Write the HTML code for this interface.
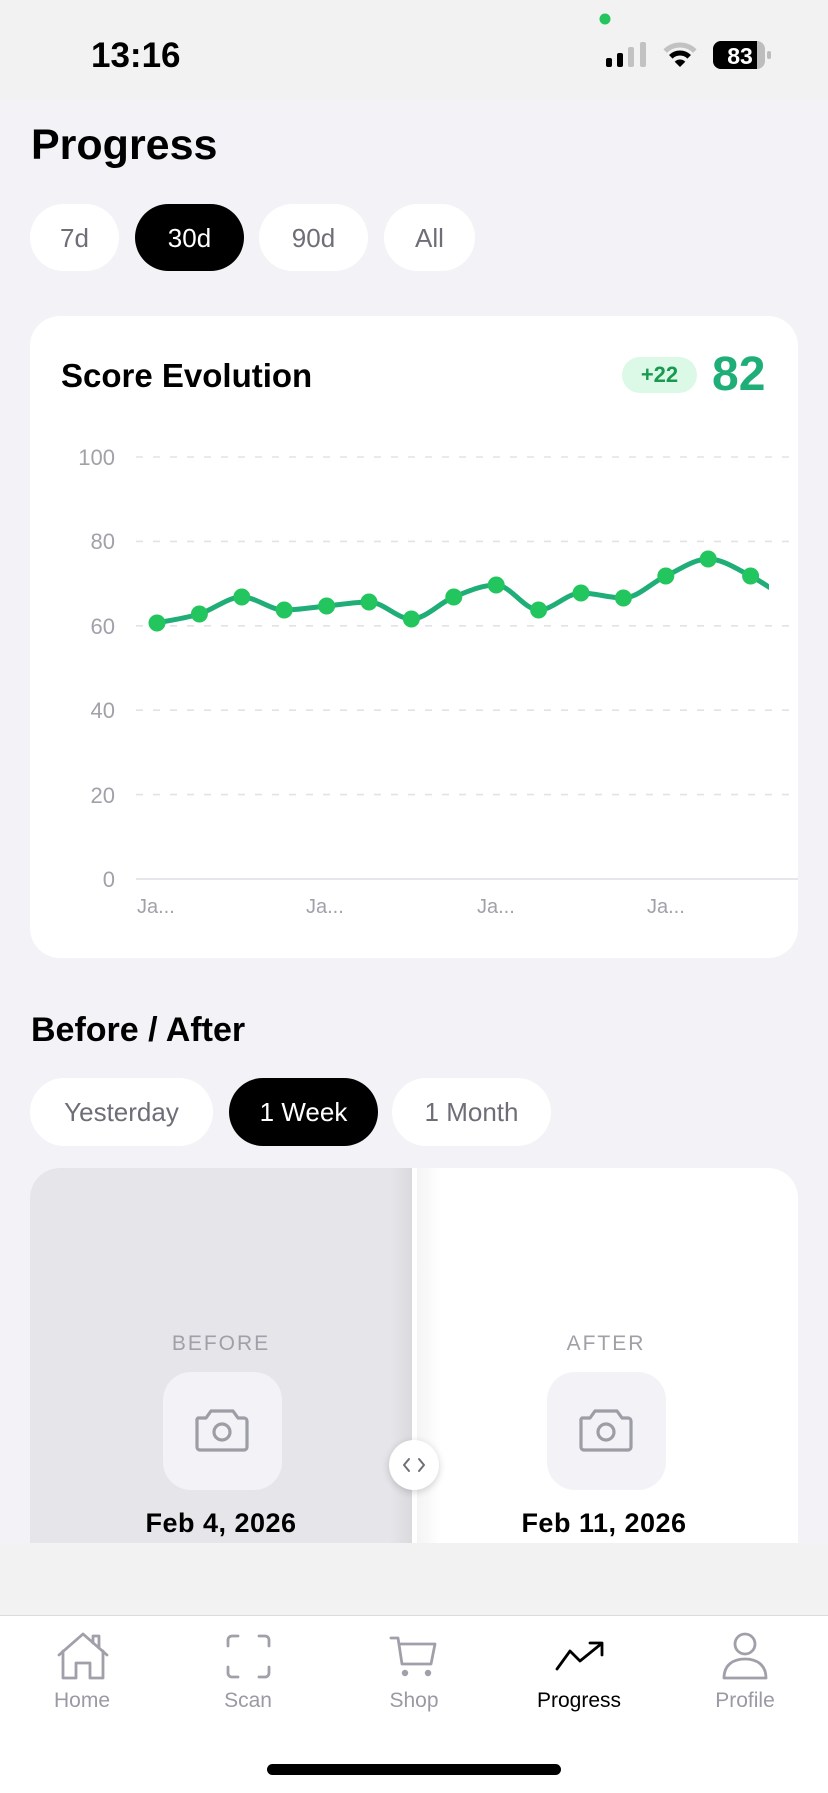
<!DOCTYPE html>
<html>
<head>
<meta charset="utf-8">
<style>
  html, body { margin:0; padding:0; }
  body { width:828px; height:1792px; position:relative; overflow:hidden; background:#f2f2f7; font-family:"Liberation Sans", sans-serif; }
  .abs { position:absolute; }
  .t { position:absolute; white-space:nowrap; line-height:1; }
  .pill { position:absolute; background:#fff; border-radius:34px; display:flex; align-items:center; justify-content:center; color:#6e6e78; font-size:26px; line-height:1; }
  .pill.on { background:#000; color:#fff; }
  .c { text-align:center; }
</style>
</head>
<body>
<!-- status bar -->
<div class="abs" style="left:0;top:0;width:828px;height:100px;background:#f2f2f2;"></div>
<div class="t" style="left:91px;top:38px;font-size:35px;font-weight:bold;color:#000;">13:16</div>
<svg class="abs" style="left:0;top:0;" width="828" height="100" viewBox="0 0 828 100">
  <circle cx="605" cy="19" r="5.5" fill="#22c55e"/>
  <rect x="606" y="58" width="6" height="9" rx="2" fill="#000"/>
  <rect x="617" y="53" width="6" height="14" rx="2" fill="#000"/>
  <rect x="628" y="47" width="6" height="20" rx="2" fill="#c2c2c2"/>
  <rect x="640" y="42" width="6" height="25" rx="2" fill="#c2c2c2"/>
  <path d="M665.15 51.15 A21 21 0 0 1 694.85 51.15" stroke="#c2c2c2" stroke-width="5" fill="none"/>
  <path d="M670.8 56.8 A13 13 0 0 1 689.2 56.8" stroke="#000" stroke-width="5" fill="none"/>
  <path d="M680 67 L674.7 61.7 A7.5 7.5 0 0 1 685.3 61.7 Z" fill="#000"/>
  <rect x="713" y="41" width="52" height="28" rx="8" fill="#bdbdbd"/>
  <path d="M721 41 H757 V69 H721 A8 8 0 0 1 713 61 V49 A8 8 0 0 1 721 41 Z" fill="#000"/>
  <rect x="767" y="51" width="4" height="8" rx="2" fill="#bdbdbd"/>
  <text x="740" y="64" font-family="Liberation Sans, sans-serif" font-size="23" font-weight="bold" fill="#fff" text-anchor="middle">83</text>
</svg>

<!-- title -->
<div class="t" style="left:31px;top:124px;font-size:43px;font-weight:bold;color:#000;">Progress</div>

<!-- range pills -->
<div class="pill" style="left:30px;top:204px;width:89px;height:67px;">7d</div>
<div class="pill on" style="left:135px;top:204px;width:109px;height:67px;">30d</div>
<div class="pill" style="left:259px;top:204px;width:109px;height:67px;">90d</div>
<div class="pill" style="left:384px;top:204px;width:91px;height:67px;">All</div>

<!-- score card -->
<div class="abs" style="left:30px;top:316px;width:768px;height:642px;background:#fff;border-radius:30px;"></div>
<div class="t" style="left:61px;top:359px;font-size:33px;font-weight:bold;color:#000;">Score Evolution</div>
<div class="abs" style="left:622px;top:357px;width:75px;height:36px;border-radius:18px;background:#dcf9e8;color:#1a9a50;font-size:22px;font-weight:bold;display:flex;align-items:center;justify-content:center;line-height:1;">+22</div>
<div class="t" style="left:712px;top:351px;font-size:48px;font-weight:bold;color:#1fae78;">82</div>

<svg class="abs" style="left:0;top:0;" width="828" height="1000" viewBox="0 0 828 1000">
  <defs>
    <clipPath id="plot"><rect x="130" y="440" width="639" height="450"/></clipPath>
  </defs>
  <g stroke="#e2e2e8" stroke-width="1.6" stroke-dasharray="7 10" fill="none">
    <line x1="136" y1="457" x2="790" y2="457"/>
    <line x1="136" y1="541.4" x2="790" y2="541.4"/>
    <line x1="136" y1="625.8" x2="790" y2="625.8"/>
    <line x1="136" y1="710.2" x2="790" y2="710.2"/>
    <line x1="136" y1="794.6" x2="790" y2="794.6"/>
  </g>
  <line x1="136" y1="879" x2="798" y2="879" stroke="#e6e6eb" stroke-width="2"/>
  <g font-family="Liberation Sans, sans-serif" font-size="22" fill="#a1a1aa" text-anchor="end">
    <text x="115" y="465">100</text>
    <text x="115" y="549">80</text>
    <text x="115" y="634">60</text>
    <text x="115" y="718">40</text>
    <text x="115" y="803">20</text>
    <text x="115" y="887">0</text>
  </g>
  <g font-family="Liberation Sans, sans-serif" font-size="20" fill="#a1a1aa">
    <text x="137" y="913">Ja...</text>
    <text x="306" y="913">Ja...</text>
    <text x="477" y="913">Ja...</text>
    <text x="647" y="913">Ja...</text>
  </g>
  <g clip-path="url(#plot)">
    <path fill="none" stroke="#1fae78" stroke-width="5" stroke-linecap="round" stroke-linejoin="round"
      d="M157 623 C171.13 620 185.27 618.33 199.4 614
         C213.53 609.67 227.67 597 241.8 597
         C255.93 597 270.07 610 284.2 610
         C298.33 610 312.47 607.33 326.6 606
         C340.73 604.67 354.87 602 369 602
         C383.13 602 397.27 619 411.4 619
         C425.53 619 439.67 602.67 453.8 597
         C467.93 591.33 482.07 585 496.2 585
         C510.33 585 524.47 610 538.6 610
         C552.73 610 566.87 593 581 593
         C595.13 593 609.27 598 623.4 598
         C637.53 598 651.67 582.5 665.8 576
         C679.93 569.5 694.07 559 708.2 559
         C722.33 559 736.47 568.67 750.6 576
         C764.73 583.33 778.87 594 793 603"/>
    <g fill="#22c55e">
      <circle cx="157" cy="623" r="8.5"/>
      <circle cx="199.4" cy="614" r="8.5"/>
      <circle cx="241.8" cy="597" r="8.5"/>
      <circle cx="284.2" cy="610" r="8.5"/>
      <circle cx="326.6" cy="606" r="8.5"/>
      <circle cx="369" cy="602" r="8.5"/>
      <circle cx="411.4" cy="619" r="8.5"/>
      <circle cx="453.8" cy="597" r="8.5"/>
      <circle cx="496.2" cy="585" r="8.5"/>
      <circle cx="538.6" cy="610" r="8.5"/>
      <circle cx="581" cy="593" r="8.5"/>
      <circle cx="623.4" cy="598" r="8.5"/>
      <circle cx="665.8" cy="576" r="8.5"/>
      <circle cx="708.2" cy="559" r="8.5"/>
      <circle cx="750.6" cy="576" r="8.5"/>
    </g>
  </g>
</svg>

<!-- before / after -->
<div class="t" style="left:31px;top:1013px;font-size:34px;font-weight:bold;color:#000;">Before / After</div>
<div class="pill" style="left:30px;top:1078px;width:183px;height:68px;">Yesterday</div>
<div class="pill on" style="left:229px;top:1078px;width:149px;height:68px;">1 Week</div>
<div class="pill" style="left:392px;top:1078px;width:159px;height:68px;">1 Month</div>

<div class="abs" style="left:30px;top:1168px;width:768px;height:375px;border-radius:30px 30px 0 0;overflow:hidden;background:#fff;">
  <div class="abs" style="left:0;top:0;width:382px;height:375px;background:#e5e5ea;"></div>
  <div class="abs" style="left:360px;top:0;width:22px;height:375px;background:linear-gradient(to right, rgba(0,0,0,0), rgba(0,0,0,0.05));"></div>
  <div class="abs" style="left:387px;top:0;width:24px;height:375px;background:linear-gradient(to right, rgba(0,0,0,0.045), rgba(0,0,0,0));"></div>
</div>

<div class="t c" style="left:121px;width:200px;top:1333px;font-size:21px;letter-spacing:2px;color:#a0a0a8;">BEFORE</div>
<div class="t c" style="left:506px;width:200px;top:1333px;font-size:21px;letter-spacing:2px;color:#a0a0a8;">AFTER</div>

<div class="abs" style="left:163px;top:1372px;width:119px;height:118px;border-radius:28px;background:#f2f2f7;"></div>
<div class="abs" style="left:547px;top:1372px;width:119px;height:118px;border-radius:28px;background:#f2f2f7;"></div>

<svg class="abs" style="left:0;top:1300px;" width="828" height="260" viewBox="0 1300 828 260">
  <g fill="none" stroke="#9d9da5" stroke-width="3.2" stroke-linejoin="round">
    <path d="M198 1418 H206 L211 1411 H233 L238 1418 H244 A3 3 0 0 1 247 1421 V1447 A3 3 0 0 1 244 1450 H200 A3 3 0 0 1 197 1447 V1421 A3 3 0 0 1 198 1418 Z"/>
    <circle cx="222" cy="1432" r="8"/>
    <path d="M582 1418 H590 L595 1411 H617 L622 1418 H628 A3 3 0 0 1 631 1421 V1447 A3 3 0 0 1 628 1450 H584 A3 3 0 0 1 581 1447 V1421 A3 3 0 0 1 582 1418 Z"/>
    <circle cx="606" cy="1432" r="8"/>
  </g>
</svg>

<div class="abs" style="left:389px;top:1440px;width:50px;height:50px;border-radius:25px;background:#fff;box-shadow:0 2px 8px rgba(0,0,0,0.18);"></div>
<svg class="abs" style="left:389px;top:1440px;" width="50" height="50" viewBox="0 0 50 50">
  <path d="M20 19 L15 25 L20 31 M30 19 L35 25 L30 31" fill="none" stroke="#6e6e78" stroke-width="2" stroke-linecap="round" stroke-linejoin="round"/>
</svg>

<div class="t c" style="left:71px;width:300px;top:1510px;font-size:27px;font-weight:bold;letter-spacing:0.5px;color:#000;">Feb 4, 2026</div>
<div class="t c" style="left:454px;width:300px;top:1510px;font-size:27px;font-weight:bold;letter-spacing:0.5px;color:#000;">Feb 11, 2026</div>

<!-- bottom band + tab bar -->
<div class="abs" style="left:0;top:1543px;width:828px;height:72px;background:#f2f2f2;"></div>
<div class="abs" style="left:0;top:1615px;width:828px;height:177px;background:#fff;border-top:1.5px solid #dcdce0;"></div>

<svg class="abs" style="left:0;top:1620px;" width="828" height="172" viewBox="0 1620 828 172">
  <g fill="none" stroke="#a0a0aa" stroke-width="2.8" stroke-linecap="round" stroke-linejoin="round">
    <path d="M59 1655 L83 1634 L107 1655"/>
    <path d="M93 1643 V1636 H99 V1648"/>
    <path d="M63 1651 V1678 H76 V1663 H90 V1678 H103 V1651"/>
    <path d="M228 1646 V1640 A4 4 0 0 1 232 1636 H238 M259 1636 H265 A4 4 0 0 1 269 1640 V1646 M269 1667 V1673 A4 4 0 0 1 265 1677 H259 M238 1677 H232 A4 4 0 0 1 228 1673 V1667"/>
    <path d="M391 1638 H398 L402 1664 H431 L435 1644 H399"/>
    <path d="M557 1669 L570 1651 L580 1661 L601 1644" stroke="#000"/>
    <path d="M590 1643 H602 V1655" stroke="#000"/>
    <circle cx="745" cy="1644" r="10"/>
    <path d="M724 1678 C724 1665 733 1659 745 1659 C757 1659 766 1665 766 1678 Z"/>
  </g>
  <circle cx="405" cy="1673" r="3.2" fill="#a0a0aa"/>
  <circle cx="428" cy="1673" r="3.2" fill="#a0a0aa"/>
</svg>

<div class="t c" style="left:2px;width:160px;top:1690px;font-size:21px;color:#9a9aa5;">Home</div>
<div class="t c" style="left:168px;width:160px;top:1690px;font-size:21px;color:#9a9aa5;">Scan</div>
<div class="t c" style="left:334px;width:160px;top:1690px;font-size:21px;color:#9a9aa5;">Shop</div>
<div class="t c" style="left:499px;width:160px;top:1690px;font-size:21px;color:#000;">Progress</div>
<div class="t c" style="left:665px;width:160px;top:1690px;font-size:21px;color:#9a9aa5;">Profile</div>

<div class="abs" style="left:267px;top:1764px;width:294px;height:11px;border-radius:6px;background:#000;"></div>
</body>
</html>
